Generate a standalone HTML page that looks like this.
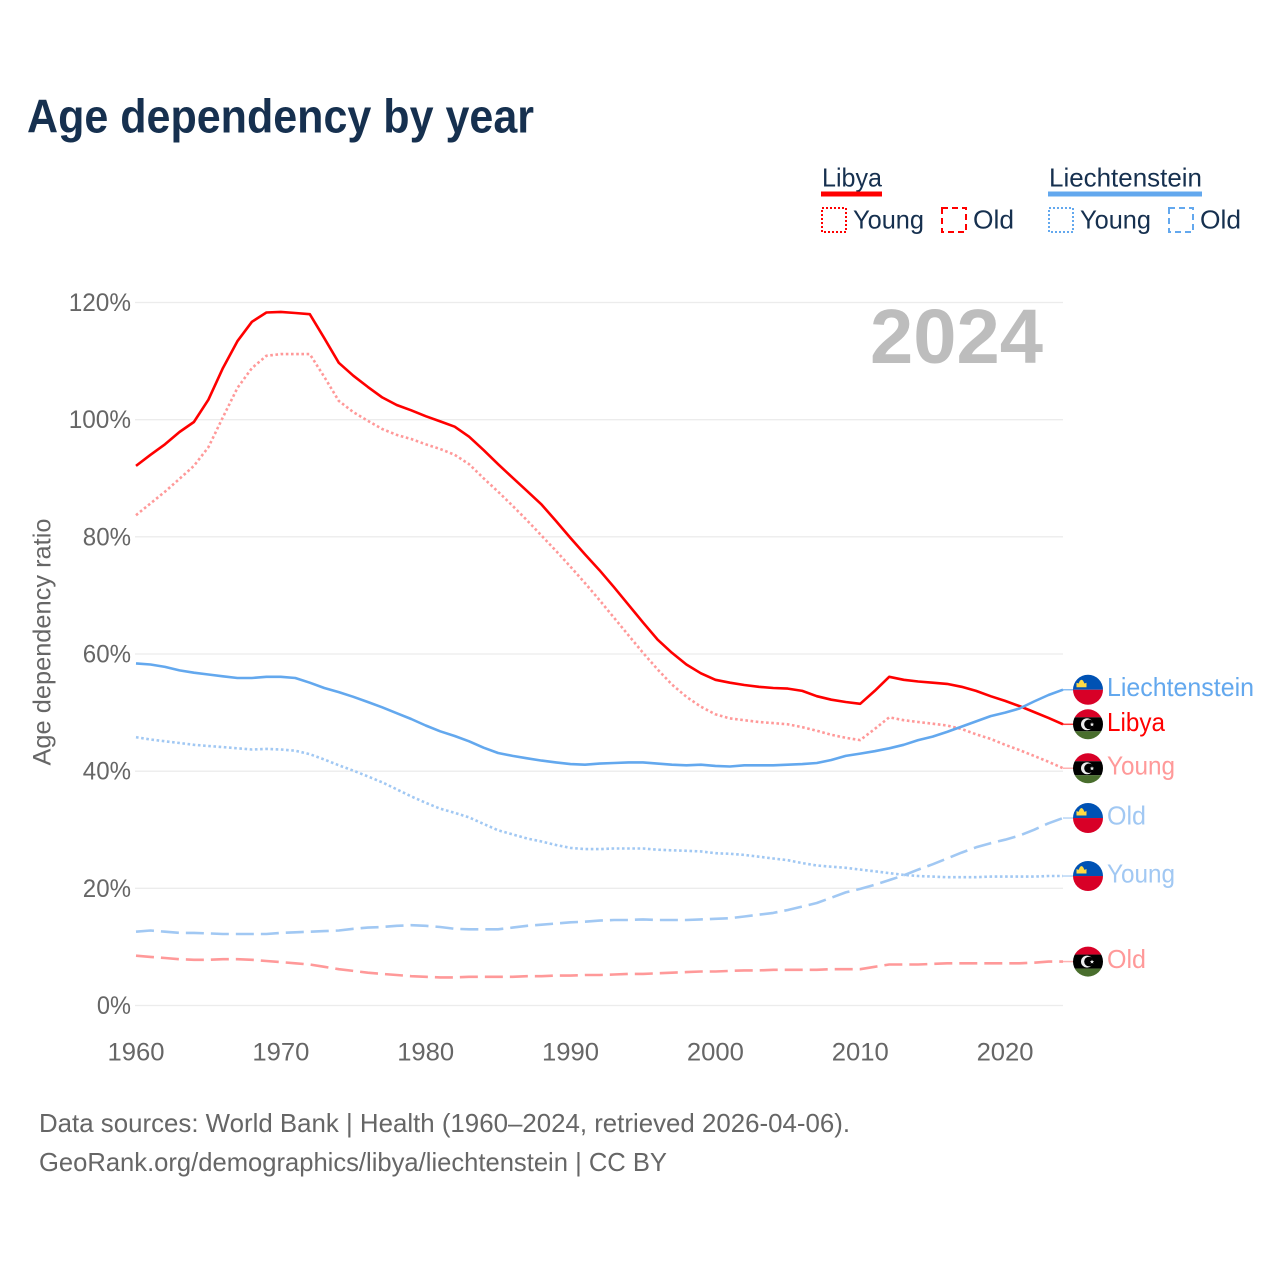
<!DOCTYPE html>
<html lang="en">
<head>
<meta charset="utf-8">
<title>Age dependency by year</title>
<style>
html,body{margin:0;padding:0;background:#fff;width:1280px;height:1280px;overflow:hidden}
svg{display:block}
text{font-family:"Liberation Sans",sans-serif}
</style>
</head>
<body>
<svg id="chart" xmlns="http://www.w3.org/2000/svg" width="1280" height="1280" viewBox="0 0 1280 1280">
  <rect width="1280" height="1280" fill="#fff"/>
  <text x="27" y="132.5" font-size="47" font-weight="700" fill="#16304f" textLength="507" lengthAdjust="spacingAndGlyphs">Age dependency by year</text>

  <g font-size="26" fill="#16304f">
    <text x="822" y="186.5" textLength="60" lengthAdjust="spacingAndGlyphs">Libya</text>
    <rect x="821" y="191.5" width="61" height="5" fill="#ff0000"/>
    <rect x="822" y="208" width="24" height="24" fill="none" stroke="#ff0000" stroke-width="2" stroke-dasharray="2 2"/>
    <text x="853" y="228.5" textLength="71" lengthAdjust="spacingAndGlyphs">Young</text>
    <rect x="942" y="208" width="24" height="24" fill="none" stroke="#ff0000" stroke-width="2" stroke-dasharray="6 4"/>
    <text x="973" y="228.5" textLength="41" lengthAdjust="spacingAndGlyphs">Old</text>

    <text x="1049" y="186.5" textLength="153" lengthAdjust="spacingAndGlyphs">Liechtenstein</text>
    <rect x="1048" y="191.5" width="154" height="5" fill="#63a8ee"/>
    <rect x="1049" y="208" width="24" height="24" fill="none" stroke="#63a8ee" stroke-width="2" stroke-dasharray="2 2"/>
    <text x="1080" y="228.5" textLength="71" lengthAdjust="spacingAndGlyphs">Young</text>
    <rect x="1169" y="208" width="24" height="24" fill="none" stroke="#63a8ee" stroke-width="2" stroke-dasharray="6 4"/>
    <text x="1200" y="228.5" textLength="41" lengthAdjust="spacingAndGlyphs">Old</text>
  </g>

  <g id="grid"></g>
  <g id="y-axis"></g>
  <g id="x-axis"></g>
  <text transform="translate(50.5,642) rotate(-90)" text-anchor="middle" font-size="25" fill="#666" textLength="247" lengthAdjust="spacingAndGlyphs">Age dependency ratio</text>
  <text x="870" y="363" font-size="77" font-weight="700" fill="#bdbdbd" textLength="173" lengthAdjust="spacingAndGlyphs">2024</text>
  <g id="series"></g>
  <g id="end-labels"></g>

  <text x="39" y="1132" font-size="26" fill="#666" textLength="811" lengthAdjust="spacingAndGlyphs">Data sources: World Bank | Health (1960–2024, retrieved 2026-04-06).</text>
  <text x="39" y="1171" font-size="26" fill="#666" textLength="628" lengthAdjust="spacingAndGlyphs">GeoRank.org/demographics/libya/liechtenstein | CC BY</text>
</svg>
<script>
const startYear = 1960;
const xTicks = [1960, 1970, 1980, 1990, 2000, 2010, 2020];
const yTicks = [0, 20, 40, 60, 80, 100, 120];

const libyaTotal = [92.1,94,95.8,97.9,99.6,103.4,108.8,113.4,116.7,118.3,
  118.4,118.2,118,113.9,109.7,107.5,105.6,103.8,102.5,101.6,
  100.6,99.7,98.8,97.1,94.8,92.4,90.1,87.8,85.5,82.7,
  79.8,77,74.3,71.4,68.4,65.4,62.5,60.2,58.2,56.7,
  55.6,55.1,54.7,54.4,54.2,54.1,53.7,52.8,52.2,51.8,
  51.5,53.7,56.1,55.6,55.3,55.1,54.9,54.4,53.7,52.8,
  52,51.1,50.1,49.1,48];
const libyaYoung = [83.7,85.7,87.7,89.9,92.1,95.3,100.4,105.4,108.8,110.9,
  111.2,111.2,111.2,107.3,103.2,101.3,99.8,98.4,97.4,96.7,
  95.8,95,94,92.4,90,87.7,85.3,82.8,80.2,77.6,
  74.9,72.1,69.2,66.2,63.2,60.2,57.4,54.8,52.7,51,
  49.7,49,48.7,48.4,48.2,48,47.5,46.9,46.2,45.7,
  45.3,47.2,49.2,48.7,48.4,48.1,47.8,47.2,46.3,45.5,
  44.5,43.6,42.6,41.6,40.5];
const libyaOld = [8.5,8.3,8.1,7.9,7.8,7.8,7.9,7.9,7.8,7.6,
  7.4,7.2,7,6.6,6.2,5.9,5.6,5.4,5.2,5,
  4.9,4.8,4.8,4.9,4.9,4.9,4.9,5,5,5.1,
  5.1,5.2,5.2,5.3,5.4,5.4,5.5,5.6,5.7,5.8,
  5.8,5.9,6,6,6.1,6.1,6.1,6.1,6.2,6.2,
  6.2,6.6,7,7,7,7.1,7.2,7.2,7.2,7.2,
  7.2,7.2,7.3,7.5,7.5];
const liechTotal = [58.4,58.2,57.8,57.2,56.8,56.5,56.2,55.9,55.9,56.1,
  56.1,55.9,55.1,54.2,53.5,52.7,51.8,50.9,49.9,48.9,
  47.8,46.8,46,45.1,44,43.1,42.6,42.2,41.8,41.5,
  41.2,41.1,41.3,41.4,41.5,41.5,41.3,41.1,41,41.1,
  40.9,40.8,41,41,41,41.1,41.2,41.4,41.9,42.6,
  43,43.4,43.9,44.5,45.3,45.9,46.7,47.6,48.5,49.4,
  50,50.7,51.9,53,53.9];
const liechYoung = [45.8,45.4,45.1,44.8,44.5,44.3,44.1,43.9,43.7,43.8,
  43.7,43.5,42.9,42,41,40.1,39.1,38.1,36.9,35.7,
  34.6,33.6,32.9,32.1,31,29.9,29.2,28.5,28,27.4,
  26.9,26.7,26.7,26.8,26.8,26.8,26.6,26.5,26.4,26.3,
  26,25.9,25.7,25.4,25.1,24.8,24.3,23.9,23.7,23.5,
  23.2,22.9,22.6,22.3,22.1,22,21.9,21.9,21.9,22,
  22,22,22,22.1,22.1];
const liechOld = [12.6,12.8,12.6,12.4,12.4,12.3,12.2,12.2,12.2,12.2,
  12.4,12.5,12.6,12.7,12.8,13.1,13.3,13.4,13.6,13.7,
  13.6,13.4,13.1,13,13,13,13.3,13.6,13.8,14,
  14.2,14.3,14.5,14.6,14.6,14.7,14.6,14.6,14.6,14.7,
  14.8,14.9,15.2,15.5,15.8,16.3,16.9,17.5,18.4,19.3,
  19.9,20.6,21.4,22.2,23.2,24.1,25.1,26.1,27,27.7,
  28.3,29,30,31.1,32];

const NS = 'http://www.w3.org/2000/svg';
const xScale = function (year) { return 136 + (year - 1960) * (1063 - 136) / 64; };
const yScale = function (pct) { return 1005.5 - pct * (1005.5 - 302.5) / 120; };
function mk(tag, parent) {
  const el = document.createElementNS(NS, tag);
  parent.appendChild(el);
  return el;
}

const gridG = document.getElementById('grid');
const yAxisG = document.getElementById('y-axis');
const xAxisG = document.getElementById('x-axis');
yTicks.forEach(function (t) {
  const line = mk('line', gridG);
  
  
  line.setAttribute('x1', 135);
  line.setAttribute('x2', 1063);
  line.setAttribute('y1', yScale(t));
  line.setAttribute('y2', yScale(t));
  line.setAttribute('stroke', '#ececec');
  line.setAttribute('stroke-width', 1.3);
  const lab = mk('text', yAxisG);
  
  
  const s = t + '%';
  lab.textContent = s;
  lab.setAttribute('x', 131);
  lab.setAttribute('y', yScale(t) + 8.5);
  lab.setAttribute('text-anchor', 'end');
  lab.setAttribute('font-size', 25);
  lab.setAttribute('fill', '#666');
  lab.setAttribute('textLength', (s.length - 1) * 14.1 + 20);
  lab.setAttribute('lengthAdjust', 'spacingAndGlyphs');
});
xTicks.forEach(function (t) {
  const lab = mk('text', xAxisG);
  
  
  lab.textContent = String(t);
  lab.setAttribute('x', xScale(t));
  lab.setAttribute('y', 1060.5);
  lab.setAttribute('text-anchor', 'middle');
  lab.setAttribute('font-size', 25);
  lab.setAttribute('fill', '#666');
  lab.setAttribute('textLength', 57);
  lab.setAttribute('lengthAdjust', 'spacingAndGlyphs');
});

const seriesList = [
  {key: 'libya-old', values: libyaOld, color: '#ff9999', dash: '18 7', flag: 'ly', label: 'Old', w: 39},
  {key: 'liechtenstein-old', values: liechOld, color: '#a1c8f3', dash: '18 7', flag: 'li', label: 'Old', w: 39},
  {key: 'liechtenstein-young', values: liechYoung, color: '#a1c8f3', dash: '2.6 2.6', flag: 'li', label: 'Young', w: 68},
  {key: 'libya-young', values: libyaYoung, color: '#ff9999', dash: '2.6 2.6', flag: 'ly', label: 'Young', w: 68},
  {key: 'libya-total', values: libyaTotal, color: '#ff0000', dash: null, flag: 'ly', label: 'Libya', w: 58},
  {key: 'liechtenstein-total', values: liechTotal, color: '#63a8ee', dash: null, flag: 'li', label: 'Liechtenstein', w: 147}
];

const seriesG = document.getElementById('series');
const labelsG = document.getElementById('end-labels');
const defs = mk('defs', document.getElementById('chart'));
seriesList.forEach(function (s, i) {
  const pts = s.values.map(function (v, k) {
    return xScale(startYear + k).toFixed(1) + ',' + yScale(v).toFixed(1);
  }).join(' ');
  const line = mk('polyline', seriesG);
  
  
  line.setAttribute('points', pts);
  line.setAttribute('fill', 'none');
  line.setAttribute('stroke', s.color);
  line.setAttribute('stroke-width', 2.6);
  line.setAttribute('stroke-linejoin', 'round');
  if (s.dash) line.setAttribute('stroke-dasharray', s.dash);

  const last = s.values[s.values.length - 1];
  const ly = yScale(last);
  const conn = mk('line', seriesG);
  
  
  conn.setAttribute('x1', 1063);
  conn.setAttribute('x2', 1074);
  conn.setAttribute('y1', ly);
  conn.setAttribute('y2', ly);
  conn.setAttribute('stroke', s.color);
  conn.setAttribute('stroke-opacity', 0.75);
  conn.setAttribute('stroke-width', 1.5);

  const cid = 'flag-clip-' + i;
  const clip = mk('clipPath', defs);
  clip.setAttribute('id', cid);
  const cc = mk('circle', clip);
  cc.setAttribute('cx', 1088);
  cc.setAttribute('cy', ly);
  cc.setAttribute('r', 15);

  const flag = mk('g', labelsG);
  
  
  flag.setAttribute('clip-path', 'url(#' + cid + ')');
  const band = function (y, h, fill) {
    const r = mk('rect', flag);
    r.setAttribute('x', 1072);
    r.setAttribute('y', ly + y);
    r.setAttribute('width', 32);
    r.setAttribute('height', h);
    r.setAttribute('fill', fill);
  };
  if (s.flag === 'li') {
    band(-16, 16, '#0052b4');
    band(0, 16, '#d80027');
    const crown = mk('path', flag);
    crown.setAttribute('d', 'M1076.5 ' + (ly - 2.5) + 'v-4.5l2 .8 1.5-3 1.5-.8 1.5.8 1.5 3 2-.8v4.5z');
    crown.setAttribute('fill', '#ffda44');
  } else {
    band(-16, 9, '#d80027');
    band(-7, 14, '#000000');
    band(7, 9, '#496e2d');
    const c1 = mk('circle', flag);
    c1.setAttribute('cx', 1087);
    c1.setAttribute('cy', ly);
    c1.setAttribute('r', 6);
    c1.setAttribute('fill', '#eeeeee');
    const c2 = mk('circle', flag);
    c2.setAttribute('cx', 1089);
    c2.setAttribute('cy', ly);
    c2.setAttribute('r', 4.8);
    c2.setAttribute('fill', '#000000');
    const star = mk('path', flag);
    star.setAttribute('d', 'M1092 ' + (ly - 2) + 'l.6 1.4 1.5.1-1.1 1 .3 1.5-1.3-.8-1.3.8.3-1.5-1.1-1 1.5-.1z');
    star.setAttribute('fill', '#eeeeee');
  }

  const lab = mk('text', labelsG);
  
  
  lab.textContent = s.label;
  lab.setAttribute('x', 1107);
  lab.setAttribute('y', ly + 6.5);
  lab.setAttribute('font-size', 26);
  lab.setAttribute('fill', s.color);
  lab.setAttribute('textLength', s.w);
  lab.setAttribute('lengthAdjust', 'spacingAndGlyphs');
});
</script>
</body>
</html>
